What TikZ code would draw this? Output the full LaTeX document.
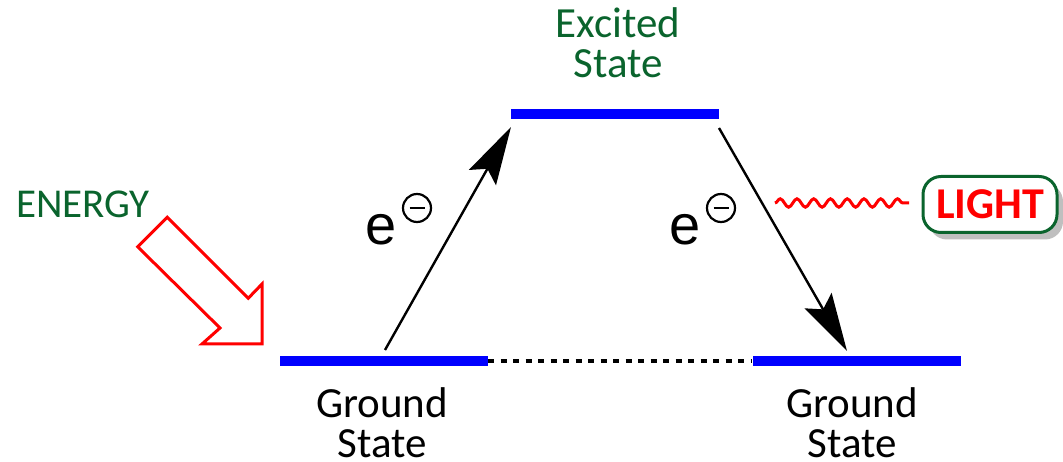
\documentclass[tikz,border=0pt]{standalone}
\usepackage{fontspec}
\setmainfont{Carlito}
\newfontfamily\efont{Liberation Sans}
\usetikzlibrary{arrows.meta,decorations.pathmorphing,shadows,calc}
\definecolor{dgreen}{RGB}{10,100,45}
\begin{document}
\begin{tikzpicture}[x=1pt,y=-1pt,
  level/.style={fill=blue, draw=none, inner sep=0pt, minimum width=208pt, minimum height=10pt},
  lbl/.style={font=\fontsize{43}{40}\selectfont, align=center, inner sep=0pt, anchor=north},
  elec/.style={line width=2.4pt, -{Stealth[length=58pt, width=31pt, inset=10pt]}},
  echar/.style={font=\efont\fontsize{56}{60}\selectfont, anchor=base, inner sep=0pt},
  minuscirc/.style={circle, draw, line width=2.2pt, minimum size=28pt, inner sep=0pt,
    path picture={\draw[line width=2.6pt] ([xshift=-7.5pt]path picture bounding box.center) -- ([xshift=7.5pt]path picture bounding box.center);}},
  lightbox/.style={draw=dgreen, line width=3pt, rounded corners=18pt, fill=white,
    minimum width=134pt, minimum height=56pt, inner sep=0pt,
    font=\bfseries\fontsize{44}{46}\selectfont, text=red,
    drop shadow={shadow xshift=6pt, shadow yshift=-7pt, fill=black!25, opacity=1}},
  wave/.style={red, line width=3pt, decorate, decoration={snake, segment length=16.75pt, amplitude=4.2pt}}
]
\useasboundingbox (0,0) rectangle (1063,462);

% energy levels
\node[level] (top) at (615,114) {};
\node[level] (gl) at (384,361) {};
\node[level] (gr) at (856.5,361) {};
\draw[line width=4pt, dash pattern=on 6pt off 6.5pt] (gl.east) -- (gr.west);

% labels
\node[lbl, text=dgreen] (exc) at (618,7) {Excited\\State};
\node[lbl] (gls) at (382,387.5) {Ground\\State};
\node[lbl] (grs) at (852,387.5) {Ground\\State};
\node[font=\fontsize{41}{43}\selectfont, text=dgreen, anchor=base, inner sep=0pt] (energy) at (83,218) {ENERGY};

% energy arrow
\draw[red, line width=3pt, miter limit=10, fill=white]
  (167.3,217.2) -- (137.7,246.8) -- (220,328) -- (202,344) -- (262,344) -- (262,284) -- (248.3,298.2) -- cycle;

% electron transitions
\coordinate (a1) at (385,350);
\coordinate (a2) at (511,127);
\coordinate (b1) at (719,128);
\coordinate (b2) at (847,351);
\draw[elec] (a1) -- (a2);
\draw[elec] (b1) -- (b2);

\node[echar] (e1) at (381,245) {e};
\node[minuscirc] (m1) at (417,208) {};
\node[echar] (e2) at (685,245) {e};
\node[minuscirc] (m2) at (721,208) {};

% light
\node[lightbox] (light) at (990,204.5) {LIGHT};
\coordinate (w1) at (775,203);
\draw[wave] (w1) -- ($(w1)+(134,0)$);
\end{tikzpicture}
\end{document}
